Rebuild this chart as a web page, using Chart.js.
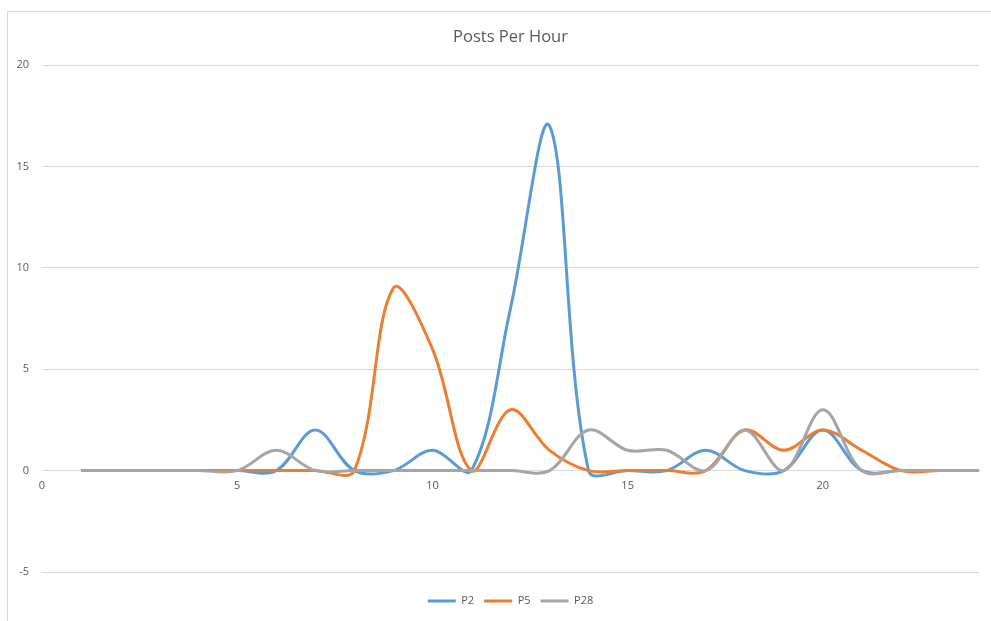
<!DOCTYPE html>
<html>
<head>
<meta charset="utf-8">
<script src="https://cdn.jsdelivr.net/npm/chart.js@4.4.0/dist/chart.umd.min.js"></script>
<style>
  html, body { margin: 0; padding: 0; background: #ffffff; }
  #wrap { position: relative; width: 991px; height: 621px; overflow: hidden; }
  #frame {
    position: absolute; left: 7px; top: 11px; width: 1000px; height: 700px;
    border: 1px solid #d9d9d9; box-sizing: border-box;
  }
  #chart { position: absolute; left: 0; top: 0; }
</style>
</head>
<body>
<div id="wrap">
  <div id="frame"></div>
  <canvas id="chart" width="991" height="621"></canvas>
</div>
<script>
// Hour of day for each sample
const hours = [1, 2, 3, 4, 5, 6, 7, 8, 9, 10, 11, 12, 13, 14, 15, 16, 17, 18, 19, 20, 21, 22, 23, 24];

// Posts per hour for each poster
const p2  = [0, 0, 0, 0, 0, 0, 2, 0, 0, 1, 0, 8, 17, 0, 0, 0, 1, 0, 0, 2, 0, 0, 0, 0];
const p5  = [0, 0, 0, 0, 0, 0, 0, 0, 9, 6, 0, 3, 1, 0, 0, 0, 0, 2, 1, 2, 1, 0, 0, 0];
const p28 = [0, 0, 0, 0, 0, 1, 0, 0, 0, 0, 0, 0, 0, 2, 1, 1, 0, 2, 0, 3, 0, 0, 0, 0];

const seriesNames = ['P2', 'P5', 'P28'];
const seriesColors = ['#5B9BD5', '#ED7D31', '#A5A5A5'];

// Axis ranges and tick spacing
const xMin = 0, xMax = 24, xStep = 5;
const yMin = -5, yMax = 20, yStep = 5;

const toPoints = (vals) => hours.map((h, i) => ({ x: h, y: vals[i] }));

const textColor = '#595959';
const gridColor = '#d9d9d9';
const baseFont = '"Open Sans", "Noto Sans", sans-serif';

const datasets = [p2, p5, p28].map((vals, i) => ({
  label: seriesNames[i],
  data: toPoints(vals),
  borderColor: seriesColors[i],
  backgroundColor: seriesColors[i],
  borderWidth: 3,
  pointRadius: 0,
  pointHoverRadius: 0,
  tension: 0.35,
  fill: false,
  // later series are painted over earlier ones
  order: seriesNames.length - 1 - i
}));

new Chart(document.getElementById('chart'), {
  type: 'line',
  data: { datasets },
  options: {
    responsive: false,
    animation: false,
    events: [],
    layout: { padding: { left: 0, right: 12, top: 0, bottom: 4.5 } },
    scales: {
      x: {
        type: 'linear',
        position: { y: 0 },
        min: xMin,
        max: xMax,
        grid: { display: false, drawTicks: false },
        border: { display: true, color: gridColor, width: 1 },
        ticks: {
          stepSize: xStep,
          includeBounds: false,
          padding: 9,
          color: textColor,
          font: { family: baseFont, size: 11 },
          maxRotation: 0
        }
      },
      y: {
        type: 'linear',
        position: 'left',
        min: yMin,
        max: yMax,
        grid: { color: gridColor, lineWidth: 1, drawTicks: false },
        border: { display: false },
        ticks: {
          stepSize: yStep,
          padding: 13,
          color: textColor,
          font: { family: baseFont, size: 11 }
        },
        afterFit: (scale) => { scale.width = 42; }
      }
    },
    plugins: {
      title: {
        display: true,
        fullSize: false,
        text: 'Posts Per Hour',
        color: textColor,
        font: { family: baseFont, size: 16.5, weight: 'normal' },
        padding: { top: 27, bottom: 18.2 }
      },
      legend: {
        display: true,
        fullSize: false,
        position: 'bottom',
        title: { display: true, text: '', font: { size: 1 }, padding: { top: 12.3, bottom: 0 } },
        labels: {
          usePointStyle: true,
          pointStyle: 'line',
          pointStyleWidth: 28,
          padding: 10,
          color: textColor,
          font: { family: baseFont, size: 11 },
          sort: (a, b) => a.datasetIndex - b.datasetIndex
        }
      },
      tooltip: { enabled: false }
    }
  }
});
</script>
</body>
</html>
